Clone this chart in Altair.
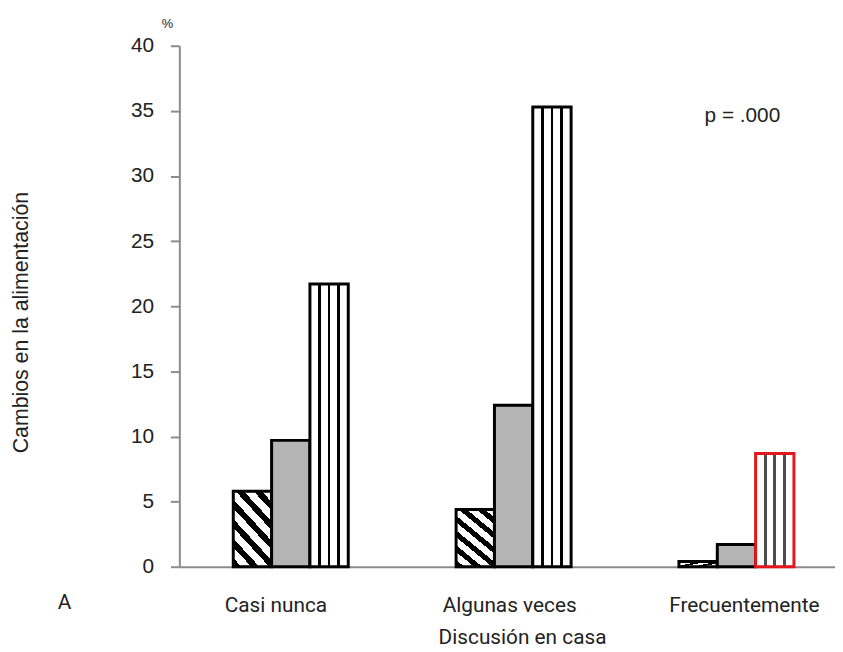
import altair as alt
import pandas as pd

# ---- data ----
categories = ["Casi nunca", "Algunas veces", "Frecuentemente"]
series = ["Serie 1", "Serie 2", "Serie 3"]
serie1 = [5.8, 4.4, 0.4]     # diagonal hatch
serie2 = [9.7, 12.4, 1.7]    # grey
serie3 = [21.7, 35.3, 8.7]   # vertical stripes
y_ticks = [0, 5, 10, 15, 20, 25, 30, 35, 40]
p_text = ["p = .000"]
p_pos = [34.6]
panel_label = ["A"]
unit_label = ["%"]

rows = []
for i, c in enumerate(categories):
    for s, vals in zip(series, [serie1, serie2, serie3]):
        rows.append({"cat": c, "serie": s, "valor": vals[i]})
df = pd.DataFrame(rows)

W, H = 662, 526
PAD_TOP, PAD_BOTTOM = 35, 83
FONT_A = "Liberation Sans"
FONT_B = "Roboto"

# ---- fills (styles) ----
def vstripes(color):
    stops = []
    for c0 in [0.25, 0.5, 0.75]:
        a, b = c0 - 0.034, c0 + 0.034
        stops += [{"offset": a, "color": "white"}, {"offset": a, "color": color},
                  {"offset": b, "color": color}, {"offset": b, "color": "white"}]
    stops = [{"offset": 0, "color": "white"}] + stops + [{"offset": 1, "color": "white"}]
    return {"gradient": "linear", "x1": 0, "y1": 0, "x2": 1, "y2": 0, "stops": stops}

def diag():
    n, frac = 6, 0.45
    stops = []
    for k in range(n):
        a = k / n
        b = a + frac / n
        stops += [{"offset": a, "color": "black"}, {"offset": b, "color": "black"},
                  {"offset": b, "color": "white"}, {"offset": (k + 1) / n, "color": "white"}]
    return {"gradient": "linear", "x1": 0, "y1": 1, "x2": 0.654, "y2": -0.19, "stops": stops}

x_axis = alt.Axis(
    title="Discusión en casa", titleFont=FONT_B, titleFontSize=21, titleFontWeight="normal",
    titleColor="#222", titleX=346, titleY=78, titleBaseline="alphabetic",
    titleAlign="center",
    labelFont=FONT_B, labelFontSize=21, labelColor="#222", labelAngle=0, labelPadding=28,
    labelOffset={"condition": [{"test": "datum.value === 'Casi nunca'", "value": -15},
                               {"test": "datum.value === 'Frecuentemente'", "value": 8}],
                 "value": -4},
    ticks=False, tickSize=0, domainColor="#8c8c8c", domainWidth=2, grid=False,
)
y_axis = alt.Axis(
    title="Cambios en la alimentación", titleFont=FONT_A, titleFontSize=21.5,
    titleFontWeight="normal",
    titleColor="#222", titleX=-159, titleY=279, titleAngle=270, titleBaseline="middle",
    titleAlign="center",
    values=y_ticks, labelFont=FONT_A, labelFontSize=21, labelColor="#222", labelPadding=17,
    tickSize=9, tickWidth=2, tickColor="#8c8c8c", domainColor="#8c8c8c", domainWidth=2,
    grid=False,
)

x_enc = alt.X("cat:N", sort=categories,
              scale=alt.Scale(domain=categories, range=[0, 675],
                              paddingInner=0.484, paddingOuter=0.242),
              axis=x_axis)
xo_enc = alt.XOffset("serie:N", sort=series,
                     scale=alt.Scale(domain=series, paddingInner=0, paddingOuter=0))
y_enc = alt.Y("valor:Q", scale=alt.Scale(domain=[0, 40], nice=False, zero=True), axis=y_axis)

base = alt.Chart(df).encode(x=x_enc, xOffset=xo_enc, y=y_enc)

l1 = base.transform_filter(alt.datum.serie == "Serie 1").mark_bar(
    fill=diag(), stroke="black", strokeWidth=3)
l2 = base.transform_filter(alt.datum.serie == "Serie 2").mark_bar(
    fill="#b4b4b4", stroke="black", strokeWidth=3)
l3 = base.transform_filter(
    (alt.datum.serie == "Serie 3") & (alt.datum.cat != "Frecuentemente")
).mark_bar(fill=vstripes("black"), stroke="black", strokeWidth=3)
l4 = base.transform_filter(
    (alt.datum.serie == "Serie 3") & (alt.datum.cat == "Frecuentemente")
).mark_bar(fill=vstripes("#4d4d4d"), stroke="#e3161b", strokeWidth=3)

p_df = pd.DataFrame({"cat": ["Frecuentemente"], "valor": p_pos, "t": p_text})
p_layer = alt.Chart(p_df).mark_text(
    font=FONT_A, fontSize=21, color="#222", dx=6, baseline="middle", align="center"
).encode(x=alt.X("cat:N", sort=categories), y=alt.Y("valor:Q"), text="t:N")

a_layer = alt.Chart(pd.DataFrame({"t": panel_label})).mark_text(
    font=FONT_B, fontSize=21, color="#222", baseline="alphabetic", align="center"
).encode(x=alt.value(-116), y=alt.value(H + 43), text="t:N")

pct_layer = alt.Chart(pd.DataFrame({"t": unit_label})).mark_text(
    font=FONT_A, fontSize=13, color="#222", baseline="middle", align="center"
).encode(x=alt.value(-12), y=alt.value(-22), text="t:N")

chart = alt.layer(l1, l2, l3, l4, p_layer, a_layer, pct_layer).properties(
    width=W, height=H,
    autosize=alt.AutoSizeParams(type="none"),
    padding={"left": 173, "top": PAD_TOP, "right": 0, "bottom": PAD_BOTTOM},
    background="white",
).configure_view(stroke=None)

chart.save("out.html", embed_options={"renderer": "svg", "actions": False})
